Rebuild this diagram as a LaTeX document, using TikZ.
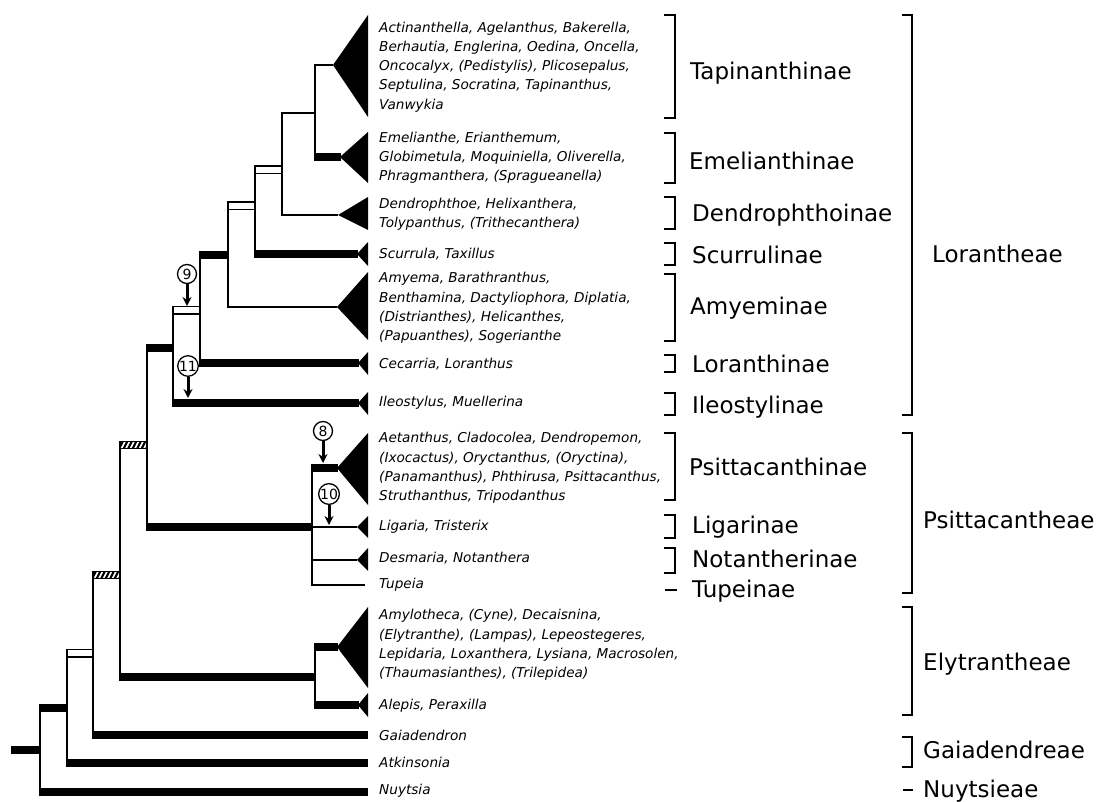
\documentclass[tikz,border=0pt]{standalone}
\usepackage{fontspec}
\setmainfont{DejaVu Sans}
\usetikzlibrary{arrows.meta,calc}
\begin{document}
\begin{tikzpicture}[x=1pt,y=-1pt,
  br/.style={line width=2pt},
  hv/.style={line width=7.5pt},
  taxa/.style={anchor=west, align=left, inner sep=0pt, font=\fontsize{13.6}{19.2}\selectfont\itshape},
  sub/.style={anchor=base west, inner sep=0pt, font=\fontsize{23}{26}\selectfont},
  brk/.style={line width=2pt},
  wbox/.style={draw=black, fill=white, line width=1.5pt},
  mnum/.style={circle, draw, line width=1.3pt, minimum size=19pt, inner sep=0pt, font=\fontsize{14}{14}\selectfont},
  arr/.style={line width=3pt, -{Stealth[length=9pt,width=9pt]}}
]
\useasboundingbox (0,0) rectangle (1099,802);
\fill[white] (0,0) rectangle (1099,802);

% internal nodes
\coordinate (r)  at (11,750);
\coordinate (n0) at (40,750);
\coordinate (n1) at (67,708);
\coordinate (n2) at (93,653);
\coordinate (n3) at (120,575);
\coordinate (n4) at (147,445);
\coordinate (nE) at (315,677);
\coordinate (nP) at (312,527);
\coordinate (nL) at (173,348);
\coordinate (n9) at (200,310);
\coordinate (nA) at (228,255);
\coordinate (nS) at (255,206);
\coordinate (nD) at (282,170);
\coordinate (nT) at (315,113);
% tips
\coordinate (tTap) at (333,65);
\coordinate (tEme) at (340,157);
\coordinate (tDen) at (338,215);
\coordinate (tScu) at (357,254);
\coordinate (tAmy) at (337,307);
\coordinate (tLor) at (358,363);
\coordinate (tIle) at (358,403);
\coordinate (tPsi) at (337,468);
\coordinate (tLig) at (357,527);
\coordinate (tNot) at (357,560);
\coordinate (tTup) at (365,585);
\coordinate (tEly) at (337,647);
\coordinate (tAle) at (358,705);
\coordinate (tGai) at (367,735);
\coordinate (tAtk) at (367,763);
\coordinate (tNuy) at (367,792);

% thin branches
\foreach \p/\c in {n0/n1,n0/tNuy,n1/n2,n1/tAtk,n2/n3,n2/tGai,n3/n4,n3/nE,nE/tEly,nE/tAle,
  n4/nL,n4/nP,nP/tPsi,nP/tLig,nP/tNot,nP/tTup,nL/n9,nL/tIle,n9/nA,n9/tLor,nA/nS,nA/tAmy,
  nS/nD,nS/tScu,nD/nT,nD/tDen,nT/tTap,nT/tEme}
  \draw[br] (\p) |- (\c);

% thick branches
\draw[hv] (r) -- ($(n0)+(1,0)$);
\foreach \p/\c in {n0/n1,n0/tNuy,n1/tAtk,n2/tGai,n3/nE,nE/tEly,nE/tAle,n4/nL,n4/nP,
  nP/tPsi,nL/tIle,n9/nA,n9/tLor,nS/tScu,nT/tEme}
  \draw[hv] ($(\p|-\c)+(-1,0)$) -- ($(\c)+(1,0)$);

% open boxes
\foreach \p/\c in {n1/n2,nL/n9,nA/nS,nS/nD}
  \draw[wbox] ($(\p|-\c)+(0,-3.75)$) rectangle ($(\c)+(0,3.75)$);

% hatched boxes
\foreach \p/\c in {n2/n3,n3/n4}{
  \fill[white] ($(\p|-\c)+(0,-3.75)$) rectangle ($(\c)+(0,3.75)$);
  \begin{scope}
    \clip ($(\p|-\c)+(0,-3.75)$) rectangle ($(\c)+(0,3.75)$);
    \foreach \k in {0,...,6}
      \draw[line width=2.2pt] ($(\p|-\c)+(\k*4.5-1,4)$) -- ++(4,-8);
  \end{scope}
  \draw[line width=1.2pt] ($(\p|-\c)+(0,-3.75)$) rectangle ($(\c)+(0,3.75)$);
}

% collapsed clades
\fill (tTap) -- (368,15) -- (368,117) -- cycle;
\fill (tEme) -- (368,132) -- (368,183) -- cycle;
\fill (tDen) -- (368,197) -- (368,230) -- cycle;
\fill (tScu) -- (368,242) -- (368,266) -- cycle;
\fill (tAmy) -- (368,272) -- (368,340) -- cycle;
\fill (tLor) -- (368,352) -- (368,375) -- cycle;
\fill (tIle) -- (368,392) -- (368,415) -- cycle;
\fill (tPsi) -- (368,433) -- (368,505) -- cycle;
\fill (tLig) -- (368,516) -- (368,538) -- cycle;
\fill (tNot) -- (368,548) -- (368,571) -- cycle;
\fill (tEly) -- (368,607) -- (368,688) -- cycle;
\fill (tAle) -- (368,693) -- (368,717) -- cycle;

% markers
\node[mnum] (m9)  at (187,274) {9};
\node[mnum] (m11) at (188,366) {11};
\node[mnum] (m8)  at (323,431) {8};
\node[mnum] (m10) at (329,494) {10};
\coordinate (a9)  at (187,306);
\coordinate (a11) at (188,398);
\coordinate (a8)  at (323,463);
\coordinate (a10) at (329,525);
\draw[arr] (m9.south) -- (a9);
\draw[arr] (m11.south) -- (a11);
\draw[arr] (m8.south) -- (a8);
\draw[arr] (m10.south) -- (a10);

% taxa
\node[taxa] (xTap) at (379,67) {Actinanthella, Agelanthus, Bakerella,\\Berhautia, Englerina, Oedina, Oncella,\\Oncocalyx, (Pedistylis), Plicosepalus,\\Septulina, Socratina, Tapinanthus,\\Vanwykia};
\node[taxa] (xEme) at (379,158) {Emelianthe, Erianthemum,\\Globimetula, Moquiniella, Oliverella,\\Phragmanthera, (Spragueanella)};
\node[taxa] (xDen) at (379,214) {Dendrophthoe, Helixanthera,\\Tolypanthus, (Trithecanthera)};
\node[taxa] (xScu) at (379,254) {Scurrula, Taxillus};
\node[taxa] (xAmy) at (379,308) {Amyema, Barathranthus,\\Benthamina, Dactyliophora, Diplatia,\\(Distrianthes), Helicanthes,\\(Papuanthes), Sogerianthe};
\node[taxa] (xLor) at (379,364) {Cecarria, Loranthus};
\node[taxa] (xIle) at (379,403) {Ileostylus, Muellerina};
\node[taxa] (xPsi) at (379,468) {Aetanthus, Cladocolea, Dendropemon,\\(Ixocactus), Oryctanthus, (Oryctina),\\(Panamanthus), Phthirusa, Psittacanthus,\\Struthanthus, Tripodanthus};
\node[taxa] (xLig) at (379,527) {Ligaria, Tristerix};
\node[taxa] (xNot) at (379,558) {Desmaria, Notanthera};
\node[taxa] (xTup) at (379,585) {Tupeia};
\node[taxa] (xEly) at (379,645) {Amylotheca, (Cyne), Decaisnina,\\(Elytranthe), (Lampas), Lepeostegeres,\\Lepidaria, Loxanthera, Lysiana, Macrosolen,\\(Thaumasianthes), (Trilepidea)};
\node[taxa] (xAle) at (379,706) {Alepis, Peraxilla};
\node[taxa] (xGai) at (379,735) {Gaiadendron};
\node[taxa] (xAtk) at (379,762) {Atkinsonia};
\node[taxa] (xNuy) at (379,791) {Nuytsia};

% subtribe brackets
\foreach \a/\b in {15/118,133/183,197/229,243/265,274/341,355/372,393/415,433/500,515/538,548/573}
  \draw[brk] (664,\a) -- (675,\a) -- (675,\b) -- (664,\b);
\draw[brk] (665,590) -- (677,590);
\node[sub] (sTap) at (690,80)  {Tapinanthinae};
\node[sub] (sEme) at (689,170) {Emelianthinae};
\node[sub] (sDen) at (692,222) {Dendrophthoinae};
\node[sub] (sScu) at (692,263) {Scurrulinae};
\node[sub] (sAmy) at (690,314) {Amyeminae};
\node[sub] (sLor) at (692,372) {Loranthinae};
\node[sub] (sIle) at (692,413) {Ileostylinae};
\node[sub] (sPsi) at (689,475) {Psittacanthinae};
\node[sub] (sLig) at (692,533) {Ligarinae};
\node[sub] (sNot) at (692,567) {Notantherinae};
\node[sub] (sTup) at (692,597) {Tupeinae};

% tribe brackets
\foreach \a/\b in {15/415,433/593,607/715,737/767}
  \draw[brk] (902,\a) -- (912,\a) -- (912,\b) -- (902,\b);
\draw[brk] (903,790) -- (913,790);
\node[sub] (tLo) at (932,262) {Lorantheae};
\node[sub] (tPs) at (923,528) {Psittacantheae};
\node[sub] (tEl) at (923,670) {Elytrantheae};
\node[sub] (tGa) at (923,758) {Gaiadendreae};
\node[sub] (tNu) at (923,797) {Nuytsieae};
\end{tikzpicture}
\end{document}
